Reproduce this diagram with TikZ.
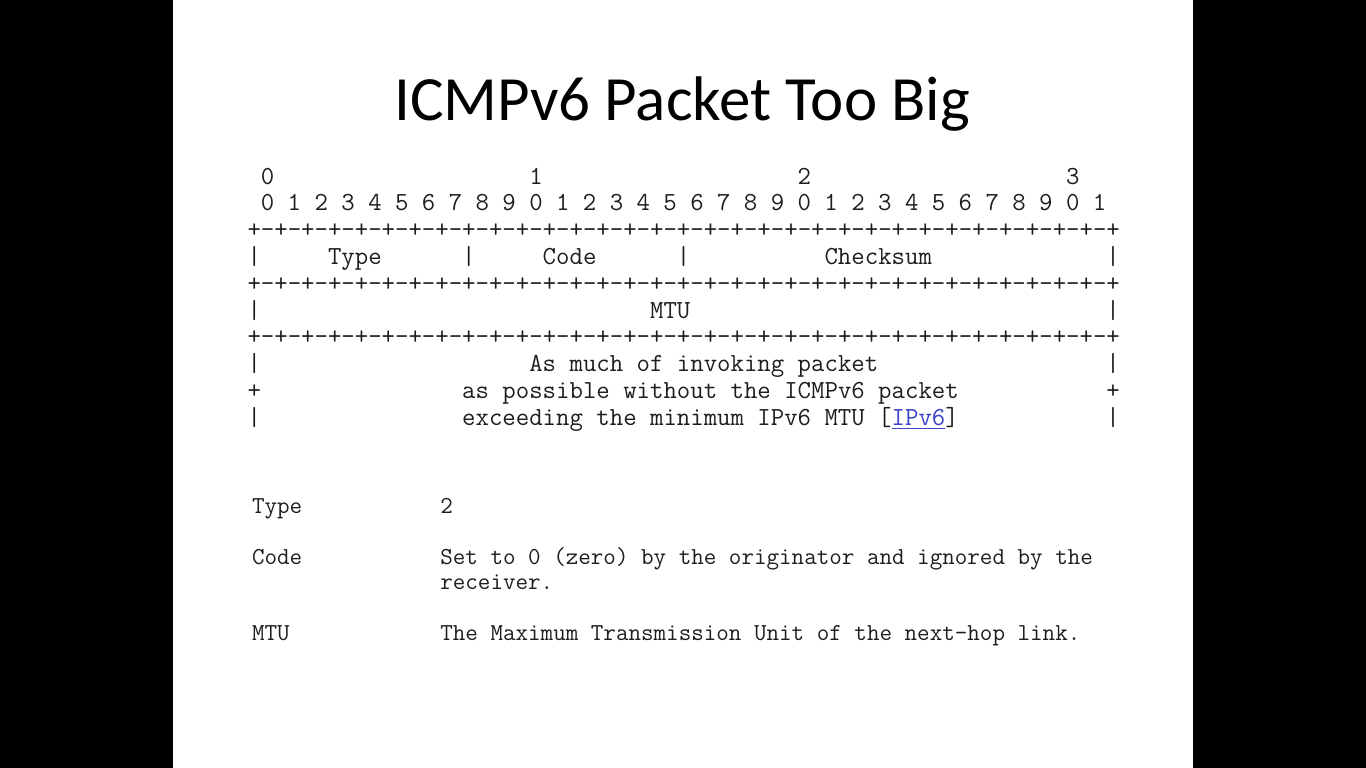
\documentclass[tikz,border=0pt]{standalone}
\usepackage{fontspec}
\setmainfont{Carlito}
\definecolor{linkblue}{RGB}{58,66,200}
\definecolor{inkgray}{RGB}{30,30,30}

% column / row grid of the header layout (pixel units)
\newcommand\hx[1]{247.5+13.42*#1}
\newcommand\hy[1]{184+26.8*#1}

\begin{document}
\begin{tikzpicture}[x=1pt,y=-1pt,
  ascii/.style={anchor=base west, inner sep=0pt, outer sep=0pt, text=inkgray,
    font=\ttfamily\fontsize{26.06}{28}\selectfont},
  desc/.style={anchor=base west, inner sep=0pt, outer sep=0pt, text=inkgray,
    font=\ttfamily\fontsize{24.37}{26}\selectfont},
  link/.style={ascii, text=linkblue}
]
\useasboundingbox (0,0) rectangle (1366,768);
\fill[black] (0,0) rectangle (1366,768);
\fill[white] (173,0) rectangle (1193,768);

% title
\node[anchor=base, inner sep=0pt, font=\fontsize{63}{70}\selectfont] (title) at (682,121) {ICMPv6 Packet Too Big};

% bit numbering
\node[ascii] (t0) at ({\hx{1}},{\hy{0}}) {0};
\node[ascii] (t1) at ({\hx{21}},{\hy{0}}) {1};
\node[ascii] (t2) at ({\hx{41}},{\hy{0}}) {2};
\node[ascii] (t3) at ({\hx{61}},{\hy{0}}) {3};
\node[ascii] (bits) at ({\hx{1}},{\hy{1}}) {0 1 2 3 4 5 6 7 8 9 0 1 2 3 4 5 6 7 8 9 0 1 2 3 4 5 6 7 8 9 0 1};

% separators
\node[ascii] (sepA) at ({\hx{0}},{\hy{2}}) {+-+-+-+-+-+-+-+-+-+-+-+-+-+-+-+-+-+-+-+-+-+-+-+-+-+-+-+-+-+-+-+-+};
\node[ascii] (sepB) at ({\hx{0}},{\hy{4}}) {+-+-+-+-+-+-+-+-+-+-+-+-+-+-+-+-+-+-+-+-+-+-+-+-+-+-+-+-+-+-+-+-+};
\node[ascii] (sepC) at ({\hx{0}},{\hy{6}}) {+-+-+-+-+-+-+-+-+-+-+-+-+-+-+-+-+-+-+-+-+-+-+-+-+-+-+-+-+-+-+-+-+};

% first word: Type / Code / Checksum
\node[ascii] (barA0) at ({\hx{0}},{\hy{3}}) {|};
\node[ascii] (ftype) at ({\hx{6}},{\hy{3}}) {Type};
\node[ascii] (barA1) at ({\hx{16}},{\hy{3}}) {|};
\node[ascii] (fcode) at ({\hx{22}},{\hy{3}}) {Code};
\node[ascii] (barA2) at ({\hx{32}},{\hy{3}}) {|};
\node[ascii] (fsum) at ({\hx{43}},{\hy{3}}) {Checksum};
\node[ascii] (barA3) at ({\hx{64}},{\hy{3}}) {|};

% second word: MTU
\node[ascii] (barB0) at ({\hx{0}},{\hy{5}}) {|};
\node[ascii] (fmtu) at ({\hx{30}},{\hy{5}}) {MTU};
\node[ascii] (barB1) at ({\hx{64}},{\hy{5}}) {|};

% body
\node[ascii] (barC0) at ({\hx{0}},{\hy{7}}) {|};
\node[ascii] (body1) at ({\hx{21}},{\hy{7}}) {As much of invoking packet};
\node[ascii] (barC1) at ({\hx{64}},{\hy{7}}) {|};
\node[ascii] (plusD0) at ({\hx{0}},{\hy{8}}) {+};
\node[ascii] (body2) at ({\hx{16}},{\hy{8}}) {as possible without the ICMPv6 packet};
\node[ascii] (plusD1) at ({\hx{64}},{\hy{8}}) {+};
\node[ascii] (barE0) at ({\hx{0}},{\hy{9}}) {|};
\node[ascii] (body3) at ({\hx{16}},{\hy{9}}) {exceeding the minimum IPv6 MTU [};
\node[link] (ref) at ({\hx{48}},{\hy{9}}) {IPv6};
\node[ascii] (refend) at ({\hx{52}},{\hy{9}}) {]};
\node[ascii] (barE1) at ({\hx{64}},{\hy{9}}) {|};
\draw[linkblue, line width=1.3pt] ([yshift=-3.5pt]ref.base west) -- ([yshift=-3.5pt]ref.base east);

% field descriptions
\node[desc] (ltype) at (252,513) {Type};
\node[desc] (vtype) at (440.3,513) {2};
\node[desc] (lcode) at (252,564) {Code};
\node[desc] (vcode) at (440.3,564) {Set to 0 (zero) by the originator and ignored by the};
\node[desc] (vcode2) at (440.3,589.5) {receiver.};
\node[desc] (lmtu) at (252,640) {MTU};
\node[desc] (vmtu) at (440.3,640) {The Maximum Transmission Unit of the next-hop link.};
\end{tikzpicture}
\end{document}
